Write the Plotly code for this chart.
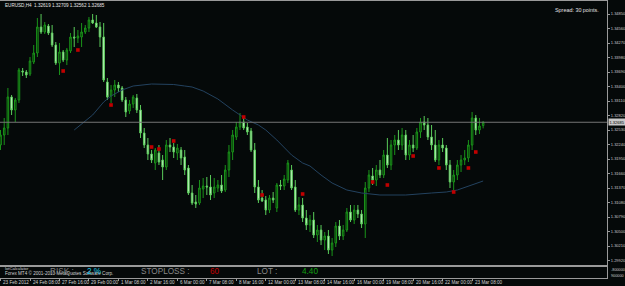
import plotly.graph_objects as go

W, H = 625, 286

opens = [1.3223, 1.3243, 1.3257, 1.3319, 1.3293, 1.3313, 1.3371, 1.3369, 1.3365, 1.3389,
         1.3407, 1.3459, 1.3449, 1.3461, 1.3447, 1.3423, 1.3387, 1.3409, 1.3393, 1.3411,
         1.3439, 1.3437, 1.3439, 1.3449, 1.3457, 1.3473, 1.3467, 1.3459, 1.3439, 1.3349,
         1.3321, 1.3333, 1.3343, 1.3337, 1.3313, 1.3291, 1.3305, 1.3317, 1.3293, 1.3247,
         1.3223, 1.3205, 1.3187, 1.3207, 1.3193, 1.3179, 1.3223, 1.3219, 1.3207, 1.3213,
         1.3199, 1.3177, 1.3127, 1.3109, 1.3107, 1.3135, 1.3141, 1.3139, 1.3127, 1.3137,
         1.3143, 1.3133, 1.3173, 1.3209, 1.3239, 1.3259, 1.3269, 1.3259, 1.3251, 1.3213,
         1.3139, 1.3117, 1.3113, 1.3093, 1.3117, 1.3097, 1.3143, 1.3141, 1.3153, 1.3173,
         1.3139, 1.3093, 1.3103, 1.3077, 1.3063, 1.3073, 1.3043, 1.3053, 1.3033, 1.3041,
         1.3013, 1.3027, 1.3061, 1.3041, 1.3053, 1.3089, 1.3073, 1.3093, 1.3085, 1.3065,
         1.3137, 1.3161, 1.3153, 1.3173, 1.3163, 1.3203, 1.3183, 1.3223, 1.3233, 1.3223,
         1.3243, 1.3203, 1.3223, 1.3217, 1.3249, 1.3269, 1.3263, 1.3239, 1.3223, 1.3193,
         1.3223, 1.3217, 1.3183, 1.3149, 1.3163, 1.3183, 1.3193, 1.3197, 1.3223, 1.3277,
         1.3253, 1.32619]
highs = [1.3253, 1.3277, 1.3337, 1.3323, 1.3317, 1.3377, 1.3377, 1.3373, 1.3399, 1.3423,
         1.3477, 1.3485, 1.3469, 1.3465, 1.3463, 1.3429, 1.3427, 1.3413, 1.3417, 1.3447,
         1.3459, 1.3453, 1.3467, 1.3463, 1.3479, 1.3485, 1.3483, 1.3469, 1.3467, 1.3357,
         1.3343, 1.3353, 1.3349, 1.3341, 1.3319, 1.3313, 1.3323, 1.3325, 1.3303, 1.3257,
         1.3237, 1.3213, 1.3217, 1.3223, 1.3203, 1.3233, 1.3237, 1.3227, 1.3225, 1.3219,
         1.3213, 1.3183, 1.3143, 1.3123, 1.3153, 1.3157, 1.3159, 1.3163, 1.3157, 1.3153,
         1.3163, 1.3183, 1.3223, 1.3253, 1.3269, 1.3287, 1.3279, 1.3267, 1.3257, 1.3227,
         1.3153, 1.3133, 1.3121, 1.3123, 1.3129, 1.3147, 1.3153, 1.3163, 1.3193, 1.3183,
         1.3153, 1.3119, 1.3117, 1.3093, 1.3083, 1.3089, 1.3063, 1.3063, 1.3049, 1.3053,
         1.3037, 1.3069, 1.3073, 1.3063, 1.3097, 1.3103, 1.3103, 1.3103, 1.3093, 1.3149,
         1.3173, 1.3177, 1.3183, 1.3193, 1.3213, 1.3237, 1.3233, 1.3243, 1.3253, 1.3257,
         1.3253, 1.3233, 1.3243, 1.3257, 1.3277, 1.3281, 1.3277, 1.3263, 1.3253, 1.3233,
         1.3237, 1.3223, 1.3193, 1.3173, 1.3193, 1.3203, 1.3213, 1.3233, 1.3289, 1.3283,
         1.3277, 1.32709]
lows = [1.3213, 1.3223, 1.3243, 1.3283, 1.3269, 1.3307, 1.3361, 1.3357, 1.3361, 1.3385,
        1.3399, 1.3445, 1.3445, 1.3443, 1.3419, 1.3383, 1.3363, 1.3389, 1.3383, 1.3407,
        1.3419, 1.3427, 1.3419, 1.3445, 1.3449, 1.3465, 1.3457, 1.3419, 1.3349, 1.3313,
        1.3307, 1.3319, 1.3329, 1.3309, 1.3279, 1.3285, 1.3297, 1.3287, 1.3237, 1.3217,
        1.3193, 1.3187, 1.3173, 1.3183, 1.3153, 1.3173, 1.3209, 1.3197, 1.3193, 1.3183,
        1.3163, 1.3123, 1.3103, 1.3097, 1.3103, 1.3117, 1.3123, 1.3113, 1.3117, 1.3129,
        1.3127, 1.3129, 1.3159, 1.3193, 1.3233, 1.3253, 1.3253, 1.3243, 1.3209, 1.3127,
        1.3107, 1.3109, 1.3083, 1.3087, 1.3107, 1.3089, 1.3133, 1.3133, 1.3147, 1.3133,
        1.3089, 1.3083, 1.3069, 1.3053, 1.3049, 1.3037, 1.3029, 1.3023, 1.3013, 1.3005,
        1.3001, 1.3019, 1.3033, 1.3033, 1.3049, 1.3069, 1.3065, 1.3077, 1.3057, 1.3037,
        1.3129, 1.3143, 1.3141, 1.3157, 1.3157, 1.3177, 1.3173, 1.3203, 1.3213, 1.3213,
        1.3193, 1.3193, 1.3209, 1.3213, 1.3237, 1.3253, 1.3233, 1.3213, 1.3189, 1.3183,
        1.3209, 1.3173, 1.3137, 1.3133, 1.3153, 1.3169, 1.3183, 1.3189, 1.3213, 1.3243,
        1.3245, 1.32562]
closes = [1.3243, 1.3257, 1.3319, 1.3293, 1.3313, 1.3373, 1.3369, 1.3363, 1.3391, 1.3407,
          1.3459, 1.3449, 1.3463, 1.3447, 1.3423, 1.3387, 1.3409, 1.3393, 1.3413, 1.3439,
          1.3437, 1.3441, 1.3449, 1.3457, 1.3473, 1.3467, 1.3459, 1.3439, 1.3353, 1.3319,
          1.3333, 1.3343, 1.3337, 1.3313, 1.3289, 1.3305, 1.3319, 1.3293, 1.3247, 1.3223,
          1.3205, 1.3193, 1.3213, 1.3189, 1.3179, 1.3223, 1.3219, 1.3209, 1.3217, 1.3197,
          1.3173, 1.3127, 1.3107, 1.3105, 1.3137, 1.3141, 1.3139, 1.3123, 1.3139, 1.3143,
          1.3131, 1.3173, 1.3209, 1.3243, 1.3259, 1.3269, 1.3257, 1.3249, 1.3213, 1.3139,
          1.3113, 1.3111, 1.3093, 1.3117, 1.3113, 1.3143, 1.3141, 1.3155, 1.3187, 1.3137,
          1.3093, 1.3103, 1.3077, 1.3063, 1.3073, 1.3043, 1.3053, 1.3033, 1.3041, 1.3013,
          1.3027, 1.3061, 1.3041, 1.3053, 1.3089, 1.3073, 1.3093, 1.3085, 1.3065, 1.3137,
          1.3163, 1.3153, 1.3173, 1.3163, 1.3203, 1.3183, 1.3223, 1.3233, 1.3223, 1.3243,
          1.3203, 1.3223, 1.3217, 1.3249, 1.3269, 1.3263, 1.3239, 1.3223, 1.3193, 1.3223,
          1.3217, 1.3183, 1.3149, 1.3163, 1.3183, 1.3193, 1.3197, 1.3223, 1.3277, 1.3253,
          1.3261, 1.32685]
bars = list(range(len(closes)))

ma_bars = [20, 22, 25, 28, 30, 33, 36, 41, 47, 50, 52, 55, 59, 63, 67, 70, 72, 75, 79, 82,
           84, 87, 90, 94, 98, 103, 110, 117, 121, 124, 127, 131]
ma_values = [1.3253, 1.3265, 1.3283, 1.3309, 1.3321, 1.3333, 1.3341, 1.3345, 1.3344, 1.3341,
             1.3339, 1.3331, 1.3315, 1.3293, 1.3273, 1.3263, 1.3253, 1.3233, 1.3203, 1.3187,
             1.3181, 1.3163, 1.3147, 1.3133, 1.3127, 1.3123, 1.3123, 1.3127, 1.3129, 1.3133,
             1.3141, 1.3151]

signal_bars = [17, 21, 30, 41, 43, 47, 66, 71, 82, 101, 105, 112, 119, 123, 127, 129]
signal_prices = [1.3371, 1.3413, 1.3303, 1.3219, 1.3215, 1.3231, 1.3279, 1.3123, 1.3125,
                 1.3149, 1.3143, 1.3201, 1.3177, 1.3129, 1.3177, 1.3209]

price_ticks = [1.34850, 1.34560, 1.34270, 1.33980, 1.33690, 1.33400, 1.33110, 1.32820,
               1.32530, 1.32240, 1.31950, 1.31660, 1.31370, 1.31080, 1.30790, 1.30500,
               1.30210, 1.29920]

time_bars = [0, 8, 16, 24, 32, 40, 48, 56, 64, 72, 80, 88, 96, 104, 112, 120, 128]
time_labels = ["23 Feb 2012", "24 Feb 08:00", "27 Feb 16:00", "29 Feb 00:00", "1 Mar 08:00",
               "2 Mar 16:00", "6 Mar 00:00", "7 Mar 08:00", "8 Mar 16:00", "12 Mar 00:00",
               "13 Mar 08:00", "14 Mar 16:00", "16 Mar 00:00", "19 Mar 08:00",
               "20 Mar 16:00", "22 Mar 00:00", "23 Mar 08:00"]

symbol = "EURUSD,H4"
spread_text = "Spread: 30 points."
risk_value = "2 %"
stoploss_value = "60"
lot_value = "4.40"

BG = "#050909"
FRAME = "#9a9a9a"
FONT = "Liberation Sans"


def px_x(p):
    return p / W


def px_y(p):
    return 1 - p / H


x_range = [-0.144, 164.62]
y_range = [1.2981, 1.3511]

fig = go.Figure()

fig.add_trace(go.Scatter(
    x=ma_bars, y=ma_values, mode="lines",
    line=dict(color="#23425f", width=1), hoverinfo="skip", showlegend=False,
))

fig.add_trace(go.Candlestick(
    x=bars, open=opens, high=highs, low=lows, close=closes,
    increasing=dict(line=dict(color="#1a941a", width=1), fillcolor="#052405"),
    decreasing=dict(line=dict(color="#5acb5a", width=1), fillcolor="#e4ffe4"),
    whiskerwidth=0, showlegend=False,
))

fig.add_trace(go.Scatter(
    x=signal_bars, y=signal_prices, mode="markers",
    marker=dict(symbol="square", size=3.6, color="#c00000", line=dict(width=0)),
    hoverinfo="skip", showlegend=False,
))

# subwindow placeholder trace
fig.add_trace(go.Scatter(x=[x_range[0]], y=[0.5], mode="markers", marker=dict(size=0.1, color=BG),
                         xaxis="x2", yaxis="y2", hoverinfo="skip", showlegend=False))

shapes = [
    dict(type="line", xref="paper", yref="y", x0=px_x(0), x1=px_x(607),
         y0=closes[-1], y1=closes[-1], line=dict(color="#767676", width=1)),
]

annotations = []
annotations.append(dict(
    xref="paper", yref="paper", x=px_x(3), y=px_y(5), xanchor="left", yanchor="middle",
    text=f"{symbol}  {opens[-1]:.5f} {highs[-1]:.5f} {lows[-1]:.5f} {closes[-1]:.5f}",
    showarrow=False, font=dict(family=FONT, size=4.6, color="#e6e6e6")))
annotations.append(dict(
    xref="paper", yref="paper", x=px_x(553), y=px_y(9.5), xanchor="left", yanchor="middle",
    text=spread_text, showarrow=False, font=dict(family=FONT, size=5.4, color="#e0e0e0")))
annotations.append(dict(
    xref="paper", yref="y", x=px_x(608), y=closes[-1], xanchor="left", yanchor="middle",
    text=f"{closes[-1]:.5f}", showarrow=False, bgcolor="#c8c8c8", borderpad=0.5,
    font=dict(family=FONT, size=4.0, color="#000000")))

# subwindow labels
annotations.append(dict(
    xref="paper", yref="paper", x=px_x(3), y=px_y(268.5), xanchor="left", yanchor="middle",
    text="lotCalculator", showarrow=False, font=dict(family=FONT, size=4.2, color="#d0d0d0")))
annotations.append(dict(
    xref="paper", yref="paper", x=px_x(3), y=px_y(272.5), xanchor="left", yanchor="middle",
    text="Forex MT4 © 2001-2010 MetaQuotes Software Corp.", showarrow=False,
    font=dict(family=FONT, size=4.6, color="#d0d0d0")))
for txt, xp, col in [("RISK :", 48, "#808080"), (risk_value, 85, "#1ec8e8"),
                     ("STOPLOSS :", 139, "#8a8a8a"), (stoploss_value, 208, "#c00000"),
                     ("LOT :", 255, "#8a8a8a"), (lot_value, 300, "#12a012")]:
    annotations.append(dict(
        xref="paper", yref="paper", x=px_x(xp), y=px_y(271.5), xanchor="left", yanchor="middle",
        text=txt, showarrow=False, font=dict(family=FONT, size=8.2, color=col)))
for txt, yp in [("-800000", 270), ("900000", 276)]:
    annotations.append(dict(
        xref="paper", yref="paper", x=px_x(609), y=px_y(yp), xanchor="left", yanchor="middle",
        text=txt, showarrow=False, font=dict(family=FONT, size=3.8, color="#c8c8c8")))

for b, lab in zip(time_bars, time_labels):
    annotations.append(dict(
        xref="x2", yref="paper", x=b, y=px_y(282), xanchor="left", yanchor="middle",
        xshift=0.5, text=lab, showarrow=False,
        font=dict(family=FONT, size=4.6, color="#d0d0d0")))

fig.update_layout(
    width=W, height=H,
    margin=dict(l=0, r=0, t=0, b=0, pad=0),
    paper_bgcolor=BG, plot_bgcolor=BG,
    showlegend=False,
    boxgap=0.4,
    xaxis=dict(domain=[px_x(0), px_x(607)], range=x_range, anchor="y",
               showgrid=False, zeroline=False, showticklabels=False, ticks="",
               showline=True, mirror=True, linecolor=FRAME, linewidth=1,
               rangeslider=dict(visible=False), fixedrange=True),
    yaxis=dict(domain=[px_y(266), px_y(1)], range=y_range, anchor="x", side="right",
               tickvals=price_ticks, ticktext=[f"{v:.5f}" for v in price_ticks],
               tickfont=dict(family=FONT, size=4.0, color="#c8c8c8"),
               ticks="outside", ticklen=2, tickcolor=FRAME, tickwidth=1,
               showgrid=False, zeroline=False, automargin=False,
               showline=True, mirror=True, linecolor=FRAME, linewidth=1, fixedrange=True),
    xaxis2=dict(domain=[px_x(0), px_x(607)], range=x_range, anchor="y2",
                showgrid=False, zeroline=False, showticklabels=False,
                tickvals=time_bars, ticks="outside", ticklen=2, tickcolor=FRAME, tickwidth=1,
                showline=True, mirror=True, linecolor=FRAME, linewidth=1, fixedrange=True),
    yaxis2=dict(domain=[px_y(278), px_y(266)], range=[0, 1], anchor="x2",
                showgrid=False, zeroline=False, showticklabels=False, ticks="",
                showline=True, mirror=True, linecolor=FRAME, linewidth=1, fixedrange=True),
    shapes=shapes,
    annotations=annotations,
)

fig.write_html("out.html")
